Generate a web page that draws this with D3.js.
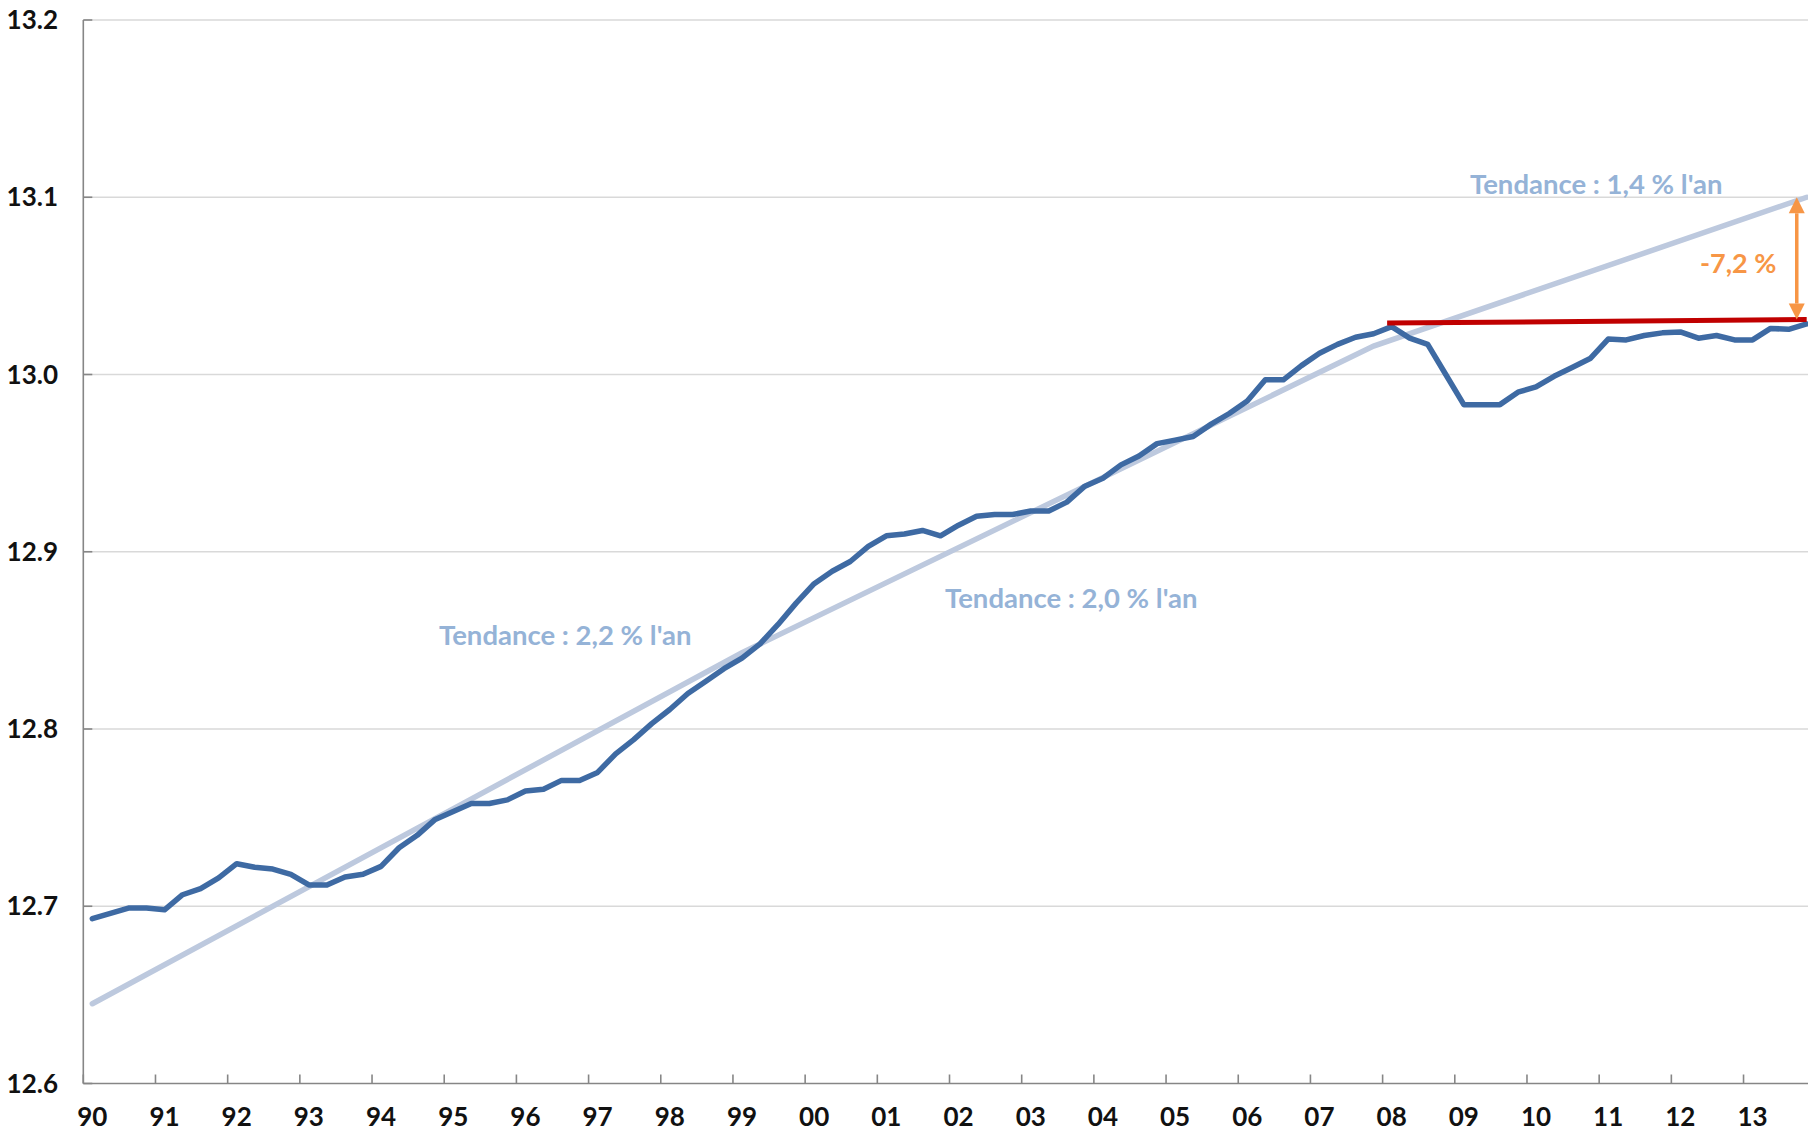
<!DOCTYPE html>
<html>
<head>
<meta charset="utf-8">
<script src="https://cdn.jsdelivr.net/npm/d3@7"></script>
<style>
  body { margin: 0; background: #fff; }
  svg { display: block; }
  text { font-family: Lato, "Open Sans", sans-serif; }
</style>
</head>
<body>
<script>
const width = 1808
const height = 1132
const left = 83.3
const top_y = 20
const bottom_y = 1083.5
const quarter_step = 18.046

const years = ['90', '91', '92', '93', '94', '95', '96', '97', '98', '99', '00', '01',
    '02', '03', '04', '05', '06', '07', '08', '09', '10', '11', '12', '13']
const y_ticks = [12.6, 12.7, 12.8, 12.9, 13.0, 13.1, 13.2]

// log of quarterly output, 1990Q1 .. 2013Q4
const output = [
    12.693, 12.696, 12.699, 12.699,
    12.698, 12.7065, 12.710, 12.716,
    12.724, 12.722, 12.721, 12.718,
    12.712, 12.712, 12.7165, 12.718,
    12.7225, 12.733, 12.740, 12.749,
    12.7535, 12.758, 12.758, 12.760,
    12.765, 12.766, 12.771, 12.771,
    12.7755, 12.786, 12.794, 12.803,
    12.811, 12.820, 12.827, 12.834,
    12.840, 12.848, 12.859, 12.871,
    12.882, 12.889, 12.8945, 12.903,
    12.909, 12.910, 12.912, 12.909,
    12.915, 12.920, 12.921, 12.921,
    12.923, 12.923, 12.928, 12.937,
    12.9415, 12.949, 12.954, 12.961,
    12.963, 12.965, 12.972, 12.978,
    12.985, 12.997, 12.997, 13.005,
    13.012, 13.017, 13.021, 13.023,
    13.027, 13.0205, 13.017, 13.000,
    12.983, 12.983, 12.983, 12.990,
    12.993, 12.999, 13.004, 13.009,
    13.020, 13.0195, 13.022, 13.0235,
    13.024, 13.0205, 13.022, 13.0195,
    13.0195, 13.026, 13.0255, 13.0285
]

// trend segments, [quarter index, value]
const trend = [[0, 12.645], [36, 12.843], [71, 13.016], [95, 13.1]]
const flat_line = [[71.75, 13.029], [95, 13.031]]
const gap_arrow = {q: 94.45, from: 13.1, to: 13.031}

const labels = [
    {text: 'Tendance : 2,2 % l\'an', x: 439, y: 645, size: 27.5, color: '#95b3d7'},
    {text: 'Tendance : 2,0 % l\'an', x: 945, y: 608, size: 27.5, color: '#95b3d7'},
    {text: 'Tendance : 1,4 % l\'an', x: 1470, y: 194, size: 27.5, color: '#95b3d7'},
    {text: '-7,2 %', x: 1700, y: 273, size: 27, color: '#f79646'}
]

const n = output.length
const x = d3.scaleLinear()
    .domain([-0.5, n - 0.5])
    .range([left, left + n * quarter_step])
const y = d3.scaleLinear()
    .domain([12.6, 13.2])
    .range([bottom_y, top_y])

const svg = d3.select('body')
    .append('svg')
    .attr('width', width)
    .attr('height', height)

// grid
svg.selectAll('line.grid')
    .data(y_ticks.slice(1))
    .enter()
    .append('line')
    .attr('class', 'grid')
    .attr('x1', left)
    .attr('x2', width)
    .attr('y1', d => y(d))
    .attr('y2', d => y(d))
    .attr('stroke', '#d9d9d9')
    .attr('stroke-width', 1.6)

// y axis
svg.append('line')
    .attr('x1', left).attr('x2', left)
    .attr('y1', top_y).attr('y2', bottom_y)
    .attr('stroke', '#868686')
    .attr('stroke-width', 1.6)
svg.selectAll('line.ytick')
    .data(y_ticks)
    .enter()
    .append('line')
    .attr('class', 'ytick')
    .attr('x1', left)
    .attr('x2', left + 9)
    .attr('y1', d => y(d))
    .attr('y2', d => y(d))
    .attr('stroke', '#868686')
    .attr('stroke-width', 1.6)
svg.selectAll('text.ylab')
    .data(y_ticks)
    .enter()
    .append('text')
    .attr('class', 'ylab')
    .attr('x', 58)
    .attr('y', d => y(d) + 9)
    .attr('text-anchor', 'end')
    .attr('font-size', 26)
    .attr('font-weight', 700)
    .attr('fill', '#111')
    .text(d => d.toFixed(1))

// x axis
svg.append('line')
    .attr('x1', left).attr('x2', width)
    .attr('y1', bottom_y).attr('y2', bottom_y)
    .attr('stroke', '#868686')
    .attr('stroke-width', 1.6)
svg.selectAll('line.xtick')
    .data(years)
    .enter()
    .append('line')
    .attr('class', 'xtick')
    .attr('x1', (d, i) => x(i * 4 - 0.5))
    .attr('x2', (d, i) => x(i * 4 - 0.5))
    .attr('y1', bottom_y)
    .attr('y2', bottom_y - 9)
    .attr('stroke', '#868686')
    .attr('stroke-width', 1.6)
svg.selectAll('text.xlab')
    .data(years)
    .enter()
    .append('text')
    .attr('class', 'xlab')
    .attr('x', (d, i) => x(i * 4))
    .attr('y', 1126)
    .attr('text-anchor', 'middle')
    .attr('font-size', 26)
    .attr('font-weight', 700)
    .attr('fill', '#111')
    .text(d => d)

const line = d3.line()
    .x(d => x(d[0]))
    .y(d => y(d[1]))

svg.append('path')
    .attr('d', line(trend))
    .attr('fill', 'none')
    .attr('stroke', '#bdc9de')
    .attr('stroke-width', 5.5)
    .attr('stroke-linecap', 'round')

svg.append('path')
    .attr('d', line(output.map((v, i) => [i, v])))
    .attr('fill', 'none')
    .attr('stroke', '#3e6aa3')
    .attr('stroke-width', 5.5)
    .attr('stroke-linejoin', 'round')
    .attr('stroke-linecap', 'round')

svg.append('path')
    .attr('d', line(flat_line))
    .attr('fill', 'none')
    .attr('stroke', '#c00000')
    .attr('stroke-width', 5)
    .attr('stroke-linecap', 'butt')

// double arrow for the gap
const ax = x(gap_arrow.q)
const ay1 = y(gap_arrow.from)
const ay2 = y(gap_arrow.to)
const head = 16
svg.append('line')
    .attr('x1', ax).attr('x2', ax)
    .attr('y1', ay1 + head).attr('y2', ay2 - head)
    .attr('stroke', '#f79646')
    .attr('stroke-width', 3.5)
svg.append('path')
    .attr('d', `M${ax},${ay1} L${ax - 8},${ay1 + head} L${ax + 8},${ay1 + head} Z`)
    .attr('fill', '#f79646')
svg.append('path')
    .attr('d', `M${ax},${ay2} L${ax - 8},${ay2 - head} L${ax + 8},${ay2 - head} Z`)
    .attr('fill', '#f79646')

svg.selectAll('text.note')
    .data(labels)
    .enter()
    .append('text')
    .attr('class', 'note')
    .attr('x', d => d.x)
    .attr('y', d => d.y)
    .attr('font-size', d => d.size)
    .attr('font-weight', 700)
    .attr('fill', d => d.color)
    .text(d => d.text)
</script>
</body>
</html>
